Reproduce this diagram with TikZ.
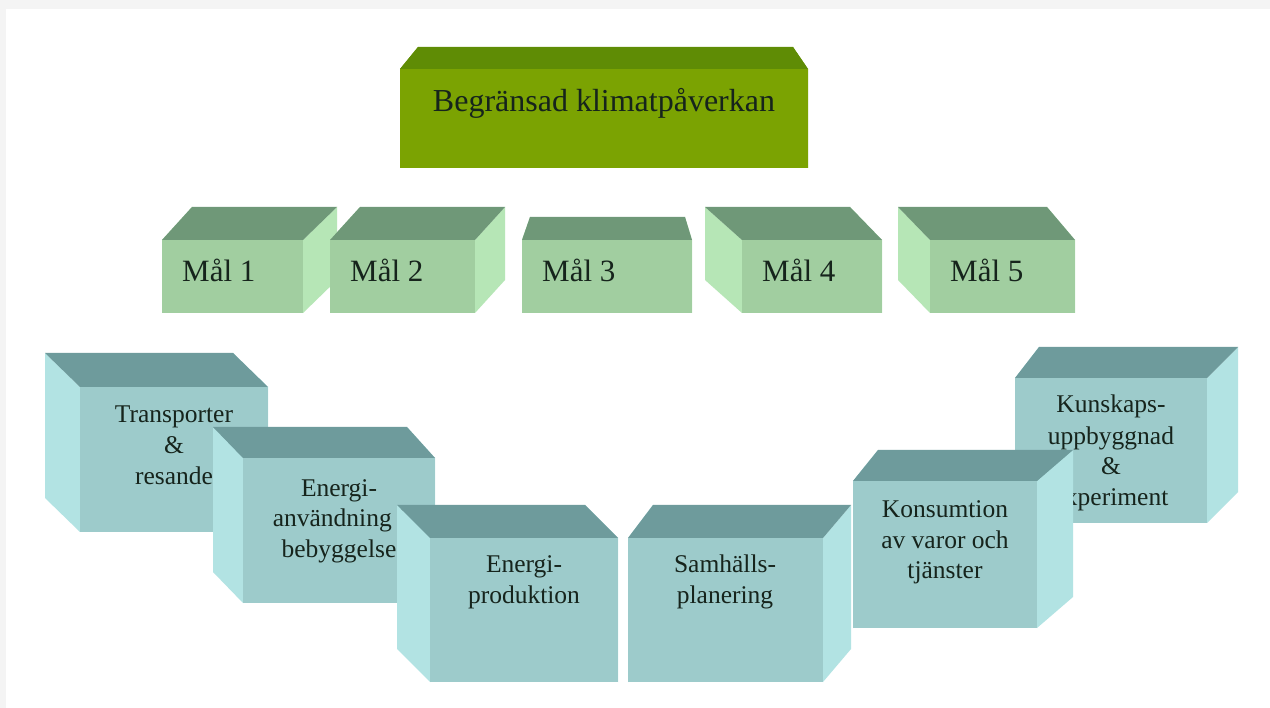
\documentclass[tikz,border=0pt]{standalone}
\usepackage{fontspec}
\setmainfont{Liberation Serif}

\definecolor{pagegray}{HTML}{F4F4F4}
\definecolor{oliveFront}{HTML}{7BA302}
\definecolor{oliveTop}{HTML}{5F8C05}
\definecolor{oliveSide}{HTML}{6F9A03}
\definecolor{malFront}{HTML}{A1CEA0}
\definecolor{malTop}{HTML}{6F9878}
\definecolor{malSide}{HTML}{B6E6B6}
\definecolor{areaFront}{HTML}{9DCBCB}
\definecolor{areaTop}{HTML}{6E9B9C}
\definecolor{areaSide}{HTML}{B2E3E3}
\definecolor{textcol}{HTML}{16241C}

% #1 colour family, #2/#3 front top left, #4/#5 front bottom right,
% #6/#7 shift of the back face at its left/right edge, #8 depth
\newcommand{\slab}[8]{%
  \fill[#1side] (#2,#3) -- ({#2+(#6)},{#3-(#8)}) -- ({#2+(#6)},{#5-(#8)}) -- (#2,#5) -- cycle;
  \fill[#1side] (#4,#3) -- ({#4+(#7)},{#3-(#8)}) -- ({#4+(#7)},{#5-(#8)}) -- (#4,#5) -- cycle;
  \fill[#1top] (#2,#3) -- (#4,#3) -- ({#4+(#7)},{#3-(#8)}) -- ({#2+(#6)},{#3-(#8)}) -- cycle;
  \fill[#1front] (#2,#3) rectangle (#4,#5);
}

\begin{document}
\begin{tikzpicture}[x=1pt,y=-1pt,
  olivefront/.style={fill=oliveFront}, olivetop/.style={fill=oliveTop}, oliveside/.style={fill=oliveSide},
  malfront/.style={fill=malFront}, maltop/.style={fill=malTop}, malside/.style={fill=malSide},
  areafront/.style={fill=areaFront}, areatop/.style={fill=areaTop}, areaside/.style={fill=areaSide},
  txt/.style={text=textcol, inner sep=0pt, anchor=base},
  goal/.style={txt, anchor=base west, font=\fontsize{31}{37}\selectfont},
  area/.style={txt, align=center, font=\fontsize{25.5}{31}\selectfont}
  ]
  \useasboundingbox (0,0) rectangle (1270,708);
  \fill[pagegray] (0,0) rectangle (1270,708);
  \fill[white] (6,9) rectangle (1270,708);

  % main goal
  \slab{olive}{400}{69}{808}{168}{18}{-15}{22}
  \node[txt, font=\fontsize{32}{38}\selectfont] (klimat) at (604,112) {Begränsad klimatpåverkan};

  % the five goals
  \foreach \idx/\xa/\xb/\dl/\dr/\dep in {1/162/303/30/34/33, 2/330/475/30/30/33, 3/522/692/8/-7/23, 4/742/882/-37/-32/33, 5/930/1075/-32/-28/33} {
    \slab{mal}{\xa}{240}{\xb}{313}{\dl}{\dr}{\dep}
    \node[goal] (mal\idx) at (\xa+20,282) {Mål \idx};
  }

  % areas, left half (back to front), text sits on its last line
  \slab{area}{80}{387}{268}{532}{-35}{-35}{34}
  \node[area] (transport) at (174,485) {Transporter\\\&\\resande};
  \slab{area}{243}{458}{435}{603}{-30}{-28}{31}
  \node[area] (bebygg) at (339,558) {Energi-\\användning i\\bebyggelse};
  \slab{area}{430}{538}{618}{682}{-33}{-33}{33}
  \node[area] (energiprod) at (524,603) {Energi-\\produktion};

  % areas, right half (back to front)
  \slab{area}{1015}{378}{1207}{523}{24}{31}{31}
  \node[area] (kunskap) at (1111,506) {Kunskaps-\\uppbyggnad\\\&\\experiment};
  \slab{area}{853}{481}{1037}{628}{25}{36}{31}
  \node[area] (konsumtion) at (945,579) {Konsumtion\\av varor och\\tjänster};
  \slab{area}{628}{538}{823}{682}{25}{28}{33}
  \node[area] (samhall) at (725,603) {Samhälls-\\planering};
\end{tikzpicture}
\end{document}
